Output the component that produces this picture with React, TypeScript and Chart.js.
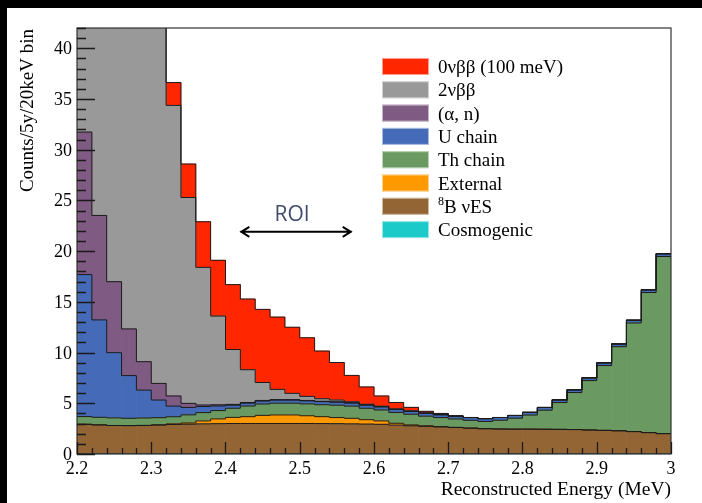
import React, { useEffect, useRef } from 'react';
import { Chart, registerables } from 'chart.js';

Chart.register(...registerables);

// ---------- data ----------
const binLowEdges = [
  2.2, 2.22, 2.24, 2.26, 2.28, 2.3, 2.32, 2.34, 2.36, 2.38,
  2.4, 2.42, 2.44, 2.46, 2.48, 2.5, 2.52, 2.54, 2.56, 2.58,
  2.6, 2.62, 2.64, 2.66, 2.68, 2.7, 2.72, 2.74, 2.76, 2.78,
  2.8, 2.82, 2.84, 2.86, 2.88, 2.9, 2.92, 2.94, 2.96, 2.98,
];
const binWidth = 0.02;
const xMin = 2.2;
const xMax = 3.0;
const yMax = 42;

const cosmogenic = [
  0.01, 0.01, 0.01, 0.01, 0.01, 0.01, 0.01, 0.01, 0.01, 0.01,
  0.01, 0.01, 0.01, 0.01, 0.01, 0.01, 0.01, 0.01, 0.01, 0.01,
  0.01, 0.01, 0.01, 0.01, 0.01, 0.01, 0.01, 0.01, 0.01, 0.01,
  0.01, 0.01, 0.01, 0.01, 0.01, 0.01, 0.01, 0.01, 0.01, 0.01,
];
const b8Nues = [
  2.92, 2.86, 2.8, 2.79, 2.8, 2.84, 2.9, 2.93, 2.96, 2.98,
  3.0, 3.0, 3.0, 3.0, 3.0, 3.0, 2.99, 2.98, 2.96, 2.94,
  2.92, 2.84, 2.77, 2.72, 2.66, 2.6, 2.54, 2.48, 2.45, 2.44,
  2.44, 2.43, 2.42, 2.4, 2.36, 2.32, 2.28, 2.2, 2.1, 2.0,
];
const external = [
  0, 0, 0, 0, 0.01, 0.03, 0.06, 0.12, 0.29, 0.47,
  0.6, 0.67, 0.8, 0.84, 0.84, 0.76, 0.68, 0.6, 0.55, 0.43,
  0.33, 0.18, 0.09, 0.05, 0.03, 0.02, 0.01, 0.01, 0.01, 0.01,
  0.01, 0.01, 0, 0, 0, 0, 0, 0, 0, 0,
];
const thChain = [
  0.76, 0.75, 0.75, 0.72, 0.73, 0.7, 0.7, 0.8, 0.82, 0.82,
  0.9, 1.05, 1.12, 1.16, 1.16, 1.17, 1.18, 1.22, 1.2, 1.13,
  1.08, 1.07, 1.05, 0.95, 0.89, 0.82, 0.76, 0.71, 0.86, 1.07,
  1.38, 1.87, 2.64, 3.65, 4.87, 6.39, 8.29, 10.71, 13.81, 17.46,
];
const uChain = [
  14.0, 9.6, 6.43, 4.21, 2.75, 1.74, 1.05, 0.73, 0.6, 0.45,
  0.3, 0.28, 0.29, 0.3, 0.3, 0.3, 0.3, 0.3, 0.3, 0.3,
  0.3, 0.29, 0.28, 0.28, 0.27, 0.27, 0.27, 0.27, 0.27, 0.27,
  0.27, 0.27, 0.27, 0.27, 0.27, 0.27, 0.27, 0.27, 0.27, 0.27,
];
const alphaN = [
  14.05, 10.3, 7.0, 4.6, 2.8, 1.64, 1.0, 0.4, 0.15, 0.12,
  0.08, 0.07, 0.06, 0.05, 0.05, 0.04, 0.04, 0.03, 0.03, 0.03,
  0.03, 0.02, 0.02, 0.02, 0.02, 0.01, 0.01, 0.01, 0, 0,
  0, 0, 0, 0, 0, 0, 0, 0, 0, 0,
];
const twoNuBB = [
  150, 120, 95, 75, 58, 44, 28.65, 20.3, 13.57, 8.75,
  5.41, 3.23, 1.77, 1.01, 0.62, 0.4, 0.25, 0.18, 0.1, 0.07,
  0.05, 0.04, 0.03, 0.02, 0.02, 0.01, 0, 0, 0, 0,
  0, 0, 0, 0, 0, 0, 0, 0, 0, 0,
];
const zeroNuBB = [
  0.1, 0.2, 0.4, 0.7, 1.1, 1.6, 2.25, 3.3, 4.5, 5.5,
  6.4, 6.97, 7.21, 7.13, 6.52, 5.78, 4.7, 3.7, 2.6, 1.7,
  1.0, 0.63, 0.35, 0.16, 0.1, 0.03, 0, 0, 0, 0,
  0, 0, 0, 0, 0, 0, 0, 0, 0, 0,
];

const xMajorTicks = [2.2, 2.3, 2.4, 2.5, 2.6, 2.7, 2.8, 2.9, 3.0];
const xTickLabels = ['2.2', '2.3', '2.4', '2.5', '2.6', '2.7', '2.8', '2.9', '3'];
const yMajorTicks = [0, 5, 10, 15, 20, 25, 30, 35, 40];
const yTickLabels = ['0', '5', '10', '15', '20', '25', '30', '35', '40'];

const xTitle = 'Reconstructed Energy (MeV)';
const yTitle = 'Counts/5y/20keV bin';
const roiLabel = 'ROI';
const roiRange = [2.42, 2.57];
const roiLevel = 21.9;

// stacking order: bottom first
const seriesValues = [cosmogenic, b8Nues, external, thChain, uChain, alphaN, twoNuBB, zeroNuBB];
const seriesNames = ['Cosmogenic', '8B νES', 'External', 'Th chain', 'U chain', '(α, n)', '2νββ', '0νββ (100 meV)'];
const seriesColors = ['#1ccbc9', '#936535', '#ff9900', '#6a9a62', '#456bb8', '#7f5a82', '#999999', '#ff2600'];
// legend order (top to bottom), as indices into the series
const legendOrder = [7, 6, 5, 4, 3, 2, 1, 0];

const SERIF = '"Liberation Serif", "DejaVu Serif", serif';

const decorPlugin = {
  id: 'decor',
  afterDatasetsDraw(chart: any) {
    const { ctx, chartArea: a, scales } = chart;
    const xs = scales.x;
    const ys = scales.y;
    ctx.save();

    // frame
    ctx.strokeStyle = '#333';
    ctx.lineWidth = 1.2;
    ctx.strokeRect(a.left, a.top, a.right - a.left, a.bottom - a.top);

    // ticks (inward)
    ctx.strokeStyle = '#1a1a1a';
    ctx.lineWidth = 1.3;
    ctx.beginPath();
    for (let i = 0; i <= binLowEdges.length; i++) {
      const v = i < binLowEdges.length ? binLowEdges[i] : xMax;
      const px = Math.round(xs.getPixelForValue(v)) + 0.5;
      const isMajor = xMajorTicks.some((m) => Math.abs(m - v) < 1e-6);
      ctx.moveTo(px, a.bottom);
      ctx.lineTo(px, a.bottom - (isMajor ? 12 : 6));
    }
    for (let v = 0; v <= yMax; v++) {
      const py = Math.round(ys.getPixelForValue(v)) + 0.5;
      const isMajor = v % 5 === 0;
      ctx.moveTo(a.left, py);
      ctx.lineTo(a.left + (isMajor ? 18 : 9), py);
    }
    ctx.stroke();

    // tick labels
    ctx.fillStyle = '#000';
    ctx.font = `18px ${SERIF}`;
    ctx.textBaseline = 'alphabetic';
    ctx.textAlign = 'center';
    xMajorTicks.forEach((v, i) => {
      ctx.fillText(xTickLabels[i], xs.getPixelForValue(v), a.bottom + 20);
    });
    ctx.textAlign = 'right';
    yMajorTicks.forEach((v, i) => {
      ctx.fillText(yTickLabels[i], a.left - 5, ys.getPixelForValue(v) + 6);
    });

    // axis titles
    ctx.font = `19.5px ${SERIF}`;
    ctx.textAlign = 'right';
    ctx.fillText(xTitle, a.right, a.bottom + 41);
    ctx.save();
    ctx.translate(25.5, a.top + 1);
    ctx.rotate(-Math.PI / 2);
    ctx.textAlign = 'right';
    ctx.font = `19px ${SERIF}`;
    ctx.fillText(yTitle, 0, 0);
    ctx.restore();

    // legend
    const rowPitch = 23.3;
    const firstCenter = 58.5;
    legendOrder.forEach((si, row) => {
      const cy = firstCenter + rowPitch * row;
      ctx.fillStyle = seriesColors[si];
      ctx.fillRect(375, cy - 8.5, 47, 17);
      ctx.strokeStyle = 'rgba(255,255,255,0.55)';
      ctx.lineWidth = 1;
      ctx.strokeRect(375.5, cy - 8, 46, 16);
      ctx.fillStyle = '#000';
      ctx.textAlign = 'left';
      const name = seriesNames[si];
      if (name.startsWith('8B')) {
        ctx.font = `12px ${SERIF}`;
        ctx.fillText('8', 431, cy - 1);
        const w = ctx.measureText('8').width;
        ctx.font = `19px ${SERIF}`;
        ctx.fillText(name.slice(1), 431 + w, cy + 6.5);
      } else {
        ctx.font = `19px ${SERIF}`;
        ctx.fillText(name, 431, cy + 6.5);
      }
    });

    // ROI arrow
    const x1 = xs.getPixelForValue(roiRange[0]);
    const x2 = xs.getPixelForValue(roiRange[1]);
    const yA = ys.getPixelForValue(roiLevel);
    ctx.strokeStyle = '#000';
    ctx.lineWidth = 2;
    ctx.beginPath();
    ctx.moveTo(x1, yA);
    ctx.lineTo(x2, yA);
    ctx.moveTo(x1 + 9, yA - 5);
    ctx.lineTo(x1 + 1, yA);
    ctx.lineTo(x1 + 9, yA + 5);
    ctx.moveTo(x2 - 9, yA - 5);
    ctx.lineTo(x2 - 1, yA);
    ctx.lineTo(x2 - 9, yA + 5);
    ctx.stroke();
    ctx.fillStyle = '#404d6e';
    ctx.font = '21px "Open Sans", "Liberation Sans", sans-serif';
    ctx.textAlign = 'center';
    ctx.fillText(roiLabel, (x1 + x2) / 2 - 4, yA - 11);

    ctx.restore();
  },
};

export default function App() {
  const canvasRef = useRef<HTMLCanvasElement | null>(null);

  useEffect(() => {
    if (!canvasRef.current) return;
    const n = binLowEdges.length;
    const barSets = seriesValues.map((vals, k) => ({
      type: 'bar' as const,
      label: seriesNames[k],
      data: vals.map((v, i) => ({ x: binLowEdges[i] + binWidth / 2, y: v })),
      backgroundColor: seriesColors[k],
      borderWidth: 0,
      barPercentage: 1,
      categoryPercentage: 1,
      order: 2,
      clip: 0,
    }));
    // cumulative outlines of each stacked histogram
    const cum: number[][] = [];
    seriesValues.forEach((vals, k) => {
      cum.push(vals.map((v, i) => v + (k > 0 ? cum[k - 1][i] : 0)));
    });
    const lineSets = cum.map((c, k) => ({
      type: 'line' as const,
      label: 'outline' + k,
      stack: 'outline' + k,
      data: [
        ...c.map((v, i) => ({ x: binLowEdges[i], y: v })),
        { x: xMax, y: c[n - 1] },
      ],
      stepped: 'before' as const,
      borderColor: '#1c1c1c',
      borderWidth: 1,
      pointRadius: 0,
      fill: false,
      order: 1,
      clip: 0,
    }));

    const chart = new Chart(canvasRef.current, {
      type: 'bar',
      data: { datasets: [...lineSets, ...barSets] as any },
      options: {
        animation: false,
        responsive: false,
        devicePixelRatio: 1,
        layout: { padding: { left: 70, top: 20, right: 31, bottom: 49 } },
        scales: {
          x: { type: 'linear', min: xMin, max: xMax, stacked: true, offset: false, display: false },
          y: { type: 'linear', min: 0, max: yMax, stacked: true, display: false },
        },
        plugins: {
          legend: { display: false },
          tooltip: { enabled: false },
        },
      },
      plugins: [decorPlugin],
    });
    return () => chart.destroy();
  }, []);

  return (
    <div style={{ position: 'fixed', left: 0, top: 0, width: 702, height: 503, background: '#000', overflow: 'hidden' }}>
      <div style={{ position: 'absolute', left: 7, top: 8, width: 695, height: 495, background: '#fff' }}>
        <canvas ref={canvasRef} width={695} height={495} style={{ display: 'block' }} />
      </div>
    </div>
  );
}
